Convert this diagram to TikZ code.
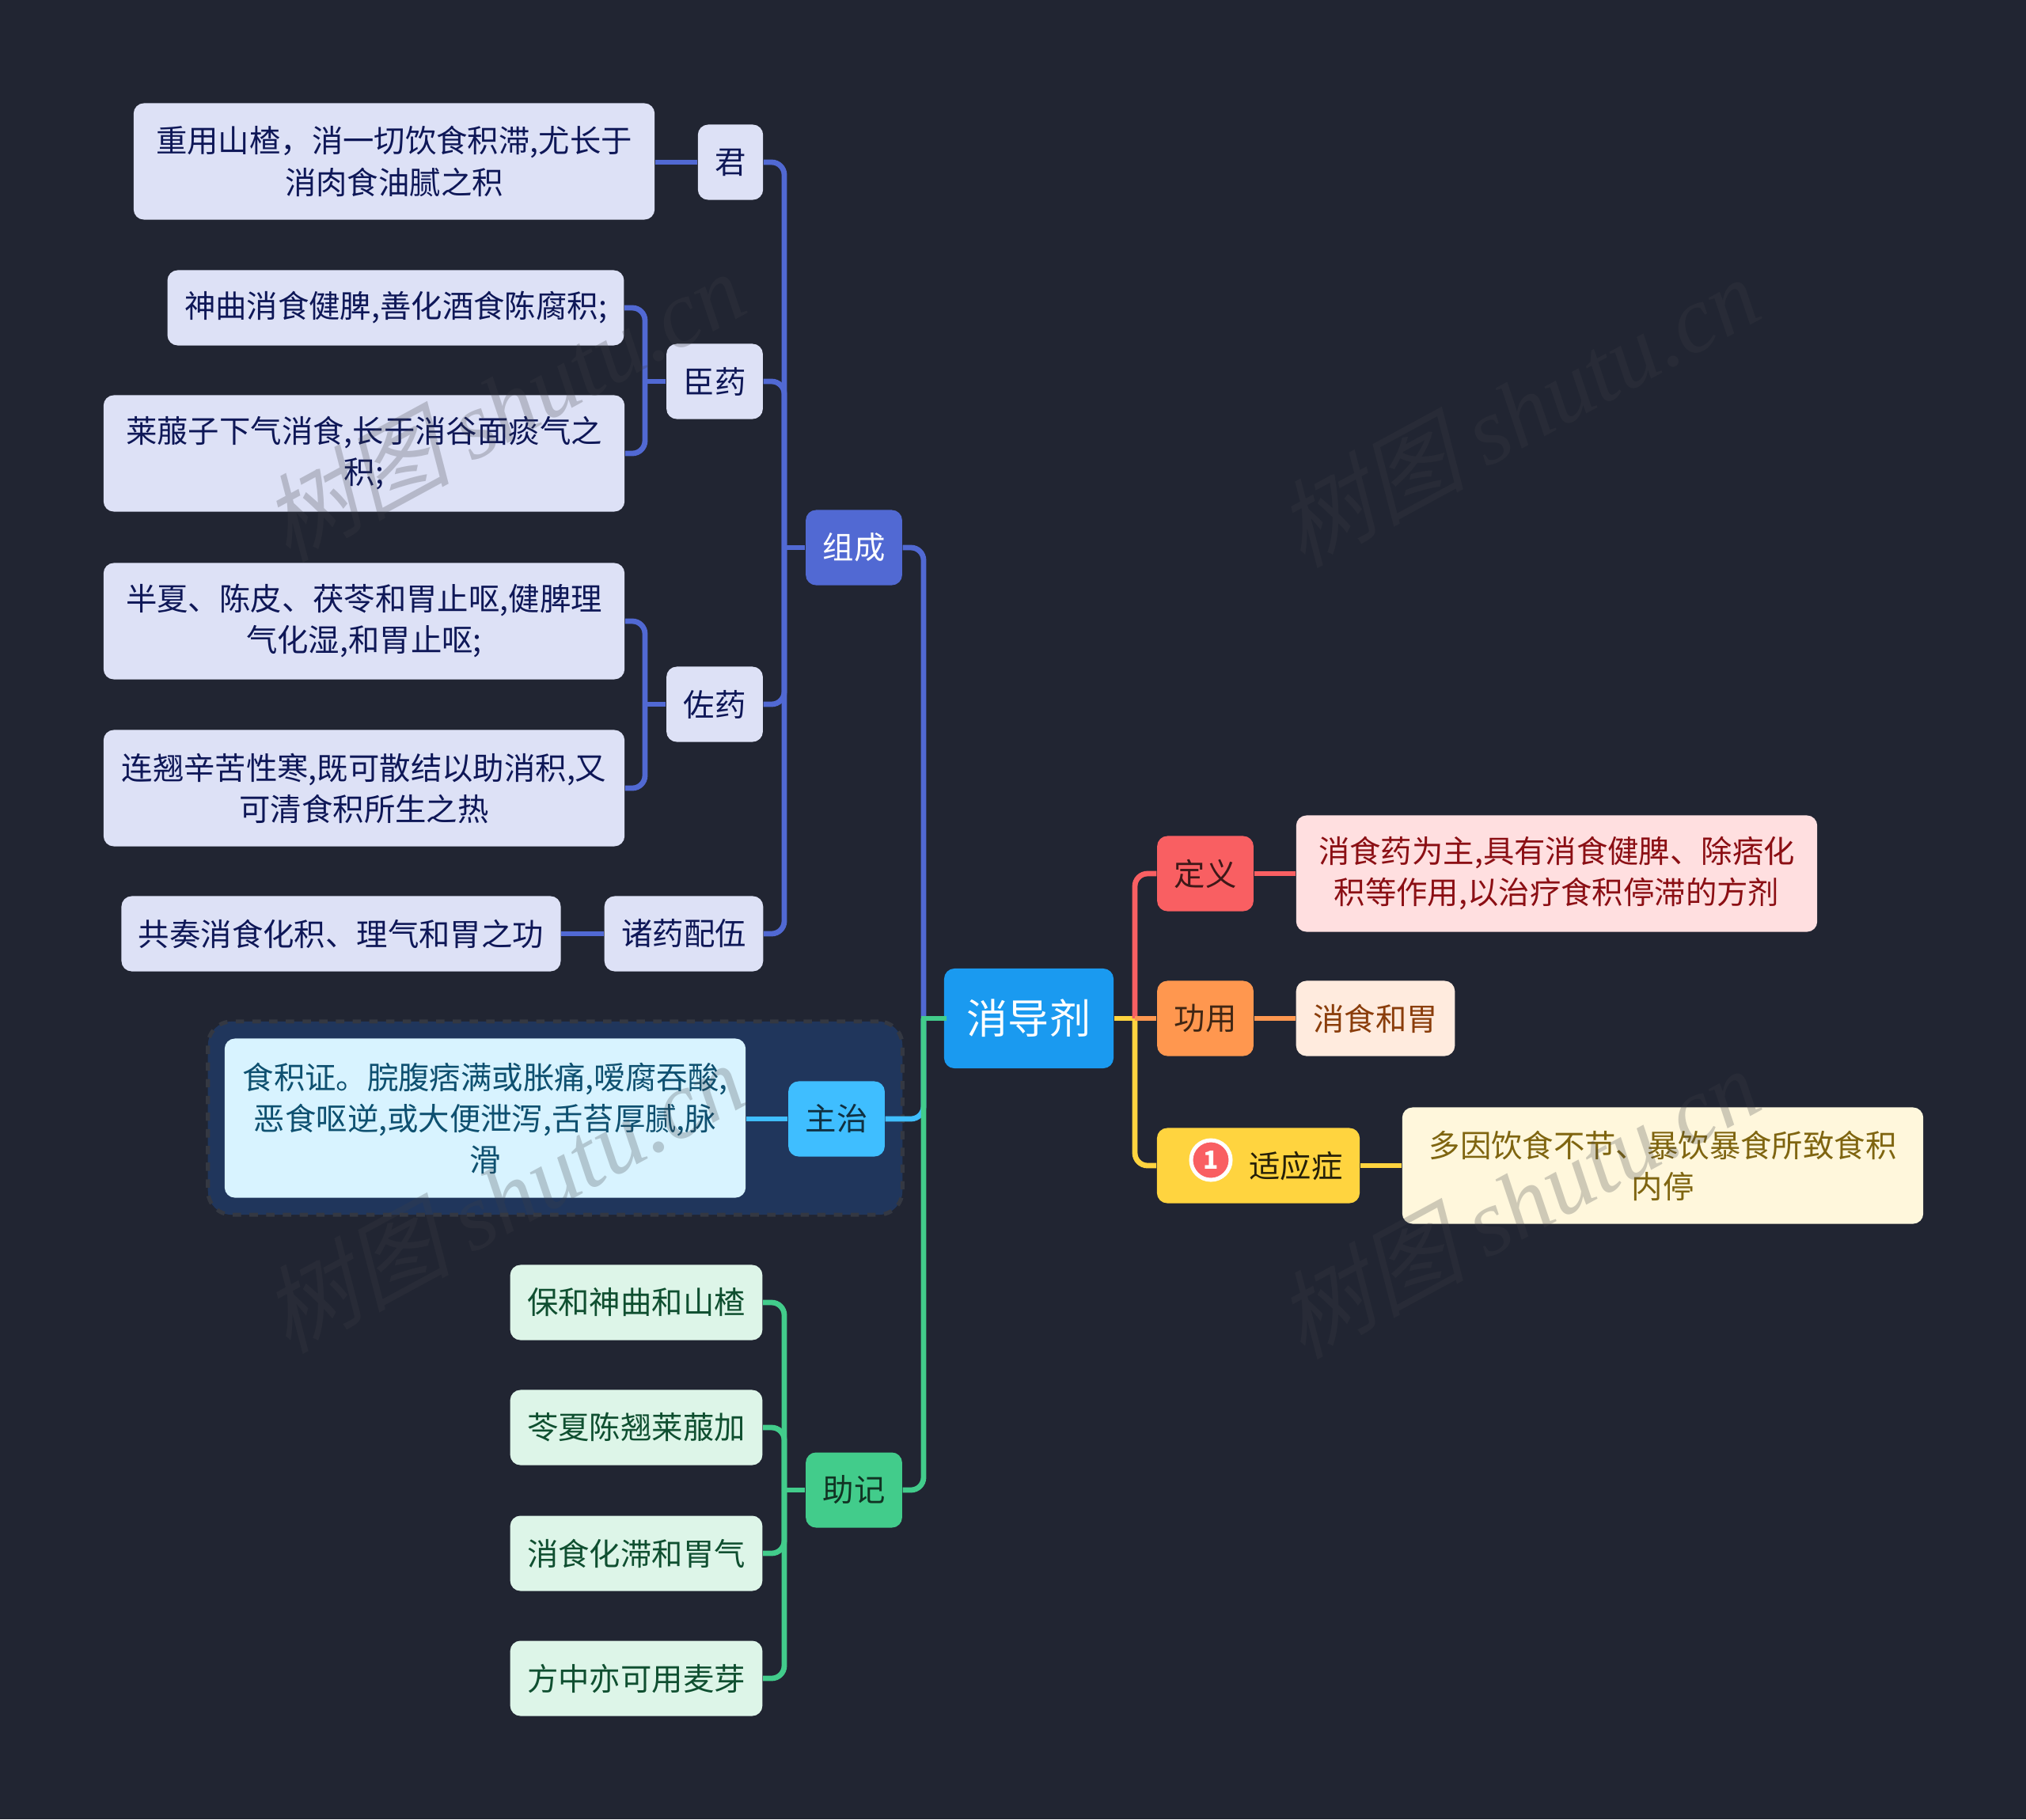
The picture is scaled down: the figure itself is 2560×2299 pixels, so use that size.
\documentclass[tikz,border=0pt]{standalone}
\usepackage{fontspec}
\setmainfont{Noto Sans CJK SC}
\newfontfamily\wmcjk[FakeSlant=0.25]{Noto Sans CJK SC}
\newfontfamily\wmlatin{Liberation Serif}
\usetikzlibrary{calc}
\definecolor{bgdark}{HTML}{212532}
\definecolor{blueC}{HTML}{5169D3}
\definecolor{blueL}{HTML}{DDE1F6}
\definecolor{blueT}{HTML}{0E1757}
\definecolor{redC}{HTML}{F95F62}
\definecolor{redL}{HTML}{FFDFE0}
\definecolor{redT}{HTML}{8B0F14}
\definecolor{orgC}{HTML}{FF974F}
\definecolor{orgL}{HTML}{FFEBDE}
\definecolor{orgT}{HTML}{8A3D0B}
\definecolor{yelC}{HTML}{FFD43F}
\definecolor{yelL}{HTML}{FFF7DC}
\definecolor{yelT}{HTML}{7F6510}
\definecolor{skyC}{HTML}{3FBEFF}
\definecolor{skyL}{HTML}{D8F3FF}
\definecolor{skyT}{HTML}{0E5070}
\definecolor{grnC}{HTML}{42CC8B}
\definecolor{grnL}{HTML}{DDF5E8}
\definecolor{grnT}{HTML}{0F4F30}
\definecolor{rootC}{HTML}{1A9AF0}
\definecolor{bandC}{HTML}{20365C}
\definecolor{bandE}{HTML}{343842}
\definecolor{wmC}{HTML}{3E4046}
\newcommand{\txtsize}{\fontsize{11.2}{14.8}\selectfont}
\begin{document}
\begin{tikzpicture}[
    x=0.01cm, y=-0.01cm,
    box/.style={rounded corners=1.3mm, inner xsep=2.15mm, inner ysep=0pt,
                minimum height=9.5mm, align=center, font=\txtsize},
    wide/.style={minimum width=6.58cm, minimum height=14.7mm},
    bluemain/.style={box, fill=blueC, text=white},
    blueleaf/.style={box, fill=blueL, text=blueT},
    redmain/.style={box, fill=redC, text=black!75!redC},
    redleaf/.style={box, fill=redL, text=redT},
    orgmain/.style={box, fill=orgC, text=black!75!orgC},
    orgleaf/.style={box, fill=orgL, text=orgT},
    yelmain/.style={box, fill=yelC, text=black!85!yelC},
    yelleaf/.style={box, fill=yelL, text=yelT},
    skymain/.style={box, fill=skyC, text=black!75!skyC},
    skyleaf/.style={box, fill=skyL, text=skyT},
    grnmain/.style={box, fill=grnC, text=black!75!grnC},
    grnleaf/.style={box, fill=grnL, text=grnT},
    rootnode/.style={box, fill=rootC, text=white, minimum width=2.14cm, minimum height=12.6mm,
                     font=\fontsize{14.8}{18}\selectfont},
    link/.style={line width=0.68mm, rounded corners=1.6mm},
    wmark/.style={text=wmC, text opacity=0.25, rotate=28.5, font=\fontsize{34}{40}\selectfont},
]
\fill[bgdark] (0,0) rectangle (2560,2299);
\useasboundingbox (0,0) rectangle (2560,2299);
% --- boundary behind the main-symptom branch ---------------------------------
\node[draw=bandE, fill=bandC, dashed, line width=0.5mm, rounded corners=3mm,
      minimum width=8.77cm, minimum height=24.4mm] (band) at (701.5,1413) {};
% --- root ---------------------------------------------------------------------
\node[rootnode] (root) at (1300,1287) {消导剂};
% --- composition --------------------------------------------------------------
\node[bluemain] (zucheng) at (1079,692) {组成};
\node[blueleaf] (jun) at (923,205) {君};
\node[blueleaf, wide] (junA) at (498,204) {重用山楂，消一切饮食积滞,尤长于\\消肉食油腻之积};
\node[blueleaf] (chen) at (903,482) {臣药};
\node[blueleaf] (chenA) at (500,389) {神曲消食健脾,善化酒食陈腐积;};
\node[blueleaf, wide] (chenB) at (460,573) {莱菔子下气消食,长于消谷面痰气之\\积;};
\node[blueleaf] (zuo) at (903,890) {佐药};
\node[blueleaf, wide] (zuoA) at (460,785) {半夏、陈皮、茯苓和胃止呕,健脾理\\气化湿,和胃止呕;};
\node[blueleaf, wide] (zuoB) at (460,996) {连翘辛苦性寒,既可散结以助消积,又\\可清食积所生之热};
\node[blueleaf] (peiwu) at (864,1180) {诸药配伍};
\node[blueleaf] (peiwuA) at (431,1180) {共奏消食化积、理气和胃之功};
% --- main symptoms --------------------------------------------------------------
\node[skymain] (zhuzhi) at (1057,1414) {主治};
\node[skyleaf, wide, minimum height=20.1mm] (zhuzhiA) at (613,1413) {食积证。脘腹痞满或胀痛,嗳腐吞酸,\\恶食呕逆,或大便泄泻,舌苔厚腻,脉\\滑};
% --- mnemonic --------------------------------------------------------------------
\node[grnmain] (zhuji) at (1079,1883) {助记};
\node[grnleaf] (zhujiA) at (804,1646) {保和神曲和山楂};
\node[grnleaf] (zhujiB) at (804,1804) {苓夏陈翘莱菔加};
\node[grnleaf] (zhujiC) at (804,1963) {消食化滞和胃气};
\node[grnleaf] (zhujiD) at (804,2121) {方中亦可用麦芽};
% --- right side ------------------------------------------------------------------
\node[redmain] (dingyi) at (1523,1104) {定义};
\node[redleaf, wide] (dingyiA) at (1967,1104) {消食药为主,具有消食健脾、除痞化\\积等作用,以治疗食积停滞的方剂};
\node[orgmain] (gongyong) at (1523,1287) {功用};
\node[orgleaf] (gongyongA) at (1738,1287) {消食和胃};
\node[yelmain, minimum width=2.55cm] (shiying) at (1590,1473) {\hspace{9.5mm}适应症};
\node[yelleaf, wide] (shiyingA) at (2101,1473) {多因饮食不节、暴饮暴食所致食积\\内停};
\node[circle, draw=white, fill=redC, text=white, line width=0.5mm, inner sep=0pt, minimum size=5mm,
      font=\fontsize{9}{9}\selectfont\bfseries] (badge) at (1530,1466) {1};
% --- spines ----------------------------------------------------------------------
\coordinate (spineL) at (1167,1287);
\coordinate (spineR) at (1434,1287);
\coordinate (spineZ) at (991,692);
\coordinate (spineJ) at (991,1883);
\coordinate (spineC) at (815,482);
\coordinate (spineO) at (815,890);
% --- left connectors -------------------------------------------------------------
\draw[link, blueC] (spineL) |- (zucheng.east);
\draw[link, blueC] (zucheng.west) -- (spineZ);
\draw[link, blueC] (spineZ) |- (jun.east);
\draw[link, blueC] (jun.west) -- (junA.east |- jun.west);
\draw[link, blueC] (spineZ) |- (chen.east);
\draw[link, blueC] (spineZ) |- (zuo.east);
\draw[link, blueC] (spineZ) |- (peiwu.east);
\draw[link, blueC] (chen.west) -- (spineC);
\draw[link, blueC] (spineC) |- (chenA.east);
\draw[link, blueC] (spineC) |- (chenB.east);
\draw[link, blueC] (zuo.west) -- (spineO);
\draw[link, blueC] (spineO) |- (zuoA.east);
\draw[link, blueC] (spineO) |- (zuoB.east);
\draw[link, blueC] (peiwu.west) -- (peiwuA.east);
\draw[link, skyC] (spineL) |- (zhuzhi.east);
\draw[link, skyC] (zhuzhi.west) -- (zhuzhiA.east |- zhuzhi.west);
\draw[link, grnC] (spineL) |- (zhuji.east);
\draw[link, grnC, line cap=rect] (root.west) -- (spineL);
\draw[link, grnC] (zhuji.west) -- (spineJ);
\draw[link, grnC] (spineJ) |- (zhujiA.east);
\draw[link, grnC] (spineJ) |- (zhujiB.east);
\draw[link, grnC] (spineJ) |- (zhujiC.east);
\draw[link, grnC] (spineJ) |- (zhujiD.east);
% --- right connectors ------------------------------------------------------------
\draw[link, yelC] (spineR) |- (shiying.west);
\draw[link, yelC] (root.east) -- (spineR);
\draw[link, yelC] (shiying.east) -- (shiyingA.west |- shiying.east);
\draw[link, redC] (spineR) |- (dingyi.west);
\draw[link, redC] (dingyi.east) -- (dingyiA.west);
\draw[link, orgC] (spineR) -- (gongyong.west);
\draw[link, orgC] (gongyong.east) -- (gongyongA.west);
% --- watermarks ------------------------------------------------------------------
\node[wmark] (wmA) at (635,512) {{\wmcjk 树图} {\wmlatin\itshape shutu.cn}};
\node[wmark] (wmB) at (1917,519) {{\wmcjk 树图} {\wmlatin\itshape shutu.cn}};
\node[wmark] (wmC) at (635,1512) {{\wmcjk 树图} {\wmlatin\itshape shutu.cn}};
\node[wmark] (wmD) at (1917,1519) {{\wmcjk 树图} {\wmlatin\itshape shutu.cn}};
\end{tikzpicture}
\end{document}
